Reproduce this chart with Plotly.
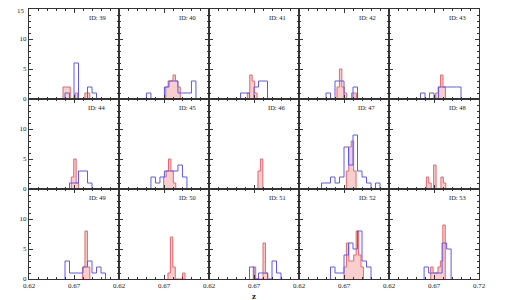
import plotly.graph_objects as go
from plotly.subplots import make_subplots

IDS = [39, 40, 41, 42, 43, 44, 45, 46, 47, 48, 49, 50, 51, 52, 53]
RED_W = 0.0027
BLUE_W = 0.005

RED_START = [0.6578, 0.6719, 0.6626, 0.6622, 0.6719,
             0.6670, 0.6696, 0.6744, 0.6726, 0.6615,
             0.6795, 0.6744, 0.6692, 0.6700, 0.6663]
RED_COUNTS = [
    [2, 2, 2, 0, 0, 1, 0, 0, 0, 1, 1],
    [2, 3, 3, 4, 3, 2],
    [1, 4, 3, 1],
    [2, 5, 2, 1, 0, 0, 1, 1],
    [1, 2, 4, 2],
    [2, 5, 1],
    [2, 3, 5, 3, 1],
    [3, 5],
    [3, 7, 8, 3],
    [2, 1, 0, 4, 0, 0, 2, 1],
    [2, 8, 2],
    [1, 7, 2, 0, 0, 0, 1],
    [2, 0, 0, 0, 6, 1],
    [2, 6, 3, 3, 4, 8, 4, 2],
    [2, 1, 1, 2, 3, 9],
]
BLUE_START = [0.660, 0.6505, 0.655, 0.650, 0.655,
              0.665, 0.6555, None, 0.645, None,
              0.660, None, 0.665, 0.655, 0.659]
BLUE_COUNTS = [
    [1, 0, 6, 0, 0, 2, 1],
    [1, 0, 0, 0, 2, 3, 3, 1, 1, 1, 3],
    [1, 1, 0, 2, 3, 3],
    [1, 0, 3, 3, 0, 0, 2],
    [1, 0, 1, 0, 2, 2, 2, 2, 2],
    [1, 1, 3, 3, 1],
    [2, 1, 2, 3, 3, 3, 4, 2],
    [],
    [1, 1, 2, 1, 2, 7, 4, 9, 3, 2, 1, 0, 1],
    [],
    [3, 1, 1, 1, 2, 3, 1, 2, 1],
    [],
    [2, 0, 1, 1, 0, 3, 1],
    [2, 1, 1, 4, 6, 5, 8, 3, 2],
    [2, 1, 1, 1, 6, 5],
]

X_TICKS = [0.62, 0.67, 0.72]
X_TEXT = ["0.62", "0.67", "0.72"]
Y_TICKS = [0, 5, 10, 15]
Y_TEXT = ["0", "5", "10", "15"]

SERIF = "Liberation Serif"
AX = "#333333"


def step_xy(start, width, counts):
    edges = [start + i * width for i in range(len(counts) + 1)]
    xs = [edges[0]] + edges
    ys = [0] + list(counts) + [0]
    return xs, ys


fig = make_subplots(rows=3, cols=5, horizontal_spacing=0, vertical_spacing=0)

for k, pid in enumerate(IDS):
    r, c = k // 5 + 1, k % 5 + 1
    xs, ys = step_xy(RED_START[k], RED_W, RED_COUNTS[k])
    fig.add_trace(go.Scatter(x=xs, y=ys, mode="lines",
                             line=dict(shape="hv", color="#e8666a", width=1),
                             fill="tozeroy", fillcolor="rgba(246,190,190,0.75)",
                             showlegend=False, hoverinfo="skip"), row=r, col=c)
    if BLUE_START[k] is not None:
        xs, ys = step_xy(BLUE_START[k], BLUE_W, BLUE_COUNTS[k])
        fig.add_trace(go.Scatter(x=xs, y=ys, mode="lines",
                                 line=dict(shape="hv", color="#5a5af0", width=1),
                                 showlegend=False, hoverinfo="skip"), row=r, col=c)
    xtext = X_TEXT if c == 5 else X_TEXT[:2] + [""]
    ytext = Y_TEXT[:3] + [""]
    fig.update_xaxes(range=[0.62, 0.72], tickmode="array", tickvals=X_TICKS,
                     ticktext=xtext, showticklabels=(r == 3), automargin=False,
                     showline=True, mirror="allticks", linecolor=AX, linewidth=1,
                     ticks="inside", ticklen=4, tickwidth=1, tickcolor=AX,
                     minor=dict(ticks="inside", tickmode="linear", tick0=0.62,
                                dtick=0.01, ticklen=2, tickwidth=1, tickcolor=AX),
                     showgrid=False, zeroline=False,
                     tickfont=dict(family=SERIF, size=7, color="#222"),
                     row=r, col=c)
    fig.update_yaxes(range=[0, 15], tickmode="array", tickvals=Y_TICKS,
                     ticktext=ytext, showticklabels=(c == 1), automargin=False,
                     showline=True, mirror="allticks", linecolor=AX, linewidth=1,
                     ticks="inside", ticklen=4, tickwidth=1, tickcolor=AX,
                     minor=dict(ticks="inside", tickmode="linear", tick0=0,
                                dtick=1, ticklen=2, tickwidth=1, tickcolor=AX),
                     showgrid=False, zeroline=False,
                     tickfont=dict(family=SERIF, size=7, color="#222"),
                     row=r, col=c)
    xa = "x" if k == 0 else f"x{k + 1}"
    ya = "y" if k == 0 else f"y{k + 1}"
    fig.add_annotation(text=f"ID: {pid}", xref=f"{xa} domain", yref=f"{ya} domain",
                       x=0.875, y=0.905, xanchor="right", yanchor="middle",
                       showarrow=False,
                       font=dict(family=SERIF, size=6.5, color="#222"))

# top "15" label of the first row (kept inside the page so it is not clipped)
fig.add_annotation(text=Y_TEXT[3], xref="x domain", yref="y domain", x=0, y=1,
                   xanchor="right", yanchor="middle", xshift=-2, yshift=-1.5,
                   showarrow=False, font=dict(family=SERIF, size=7, color="#222"))

fig.add_annotation(text="<b>z</b>", xref="paper", yref="paper", x=0.5, y=-0.063,
                   xanchor="center", yanchor="middle", showarrow=False,
                   font=dict(family=SERIF, size=9, color="#222"))

fig.update_layout(width=509, height=300, margin=dict(l=21, r=38, t=1, b=29),
                  paper_bgcolor="white", plot_bgcolor="white")

fig.write_html("out.html")
